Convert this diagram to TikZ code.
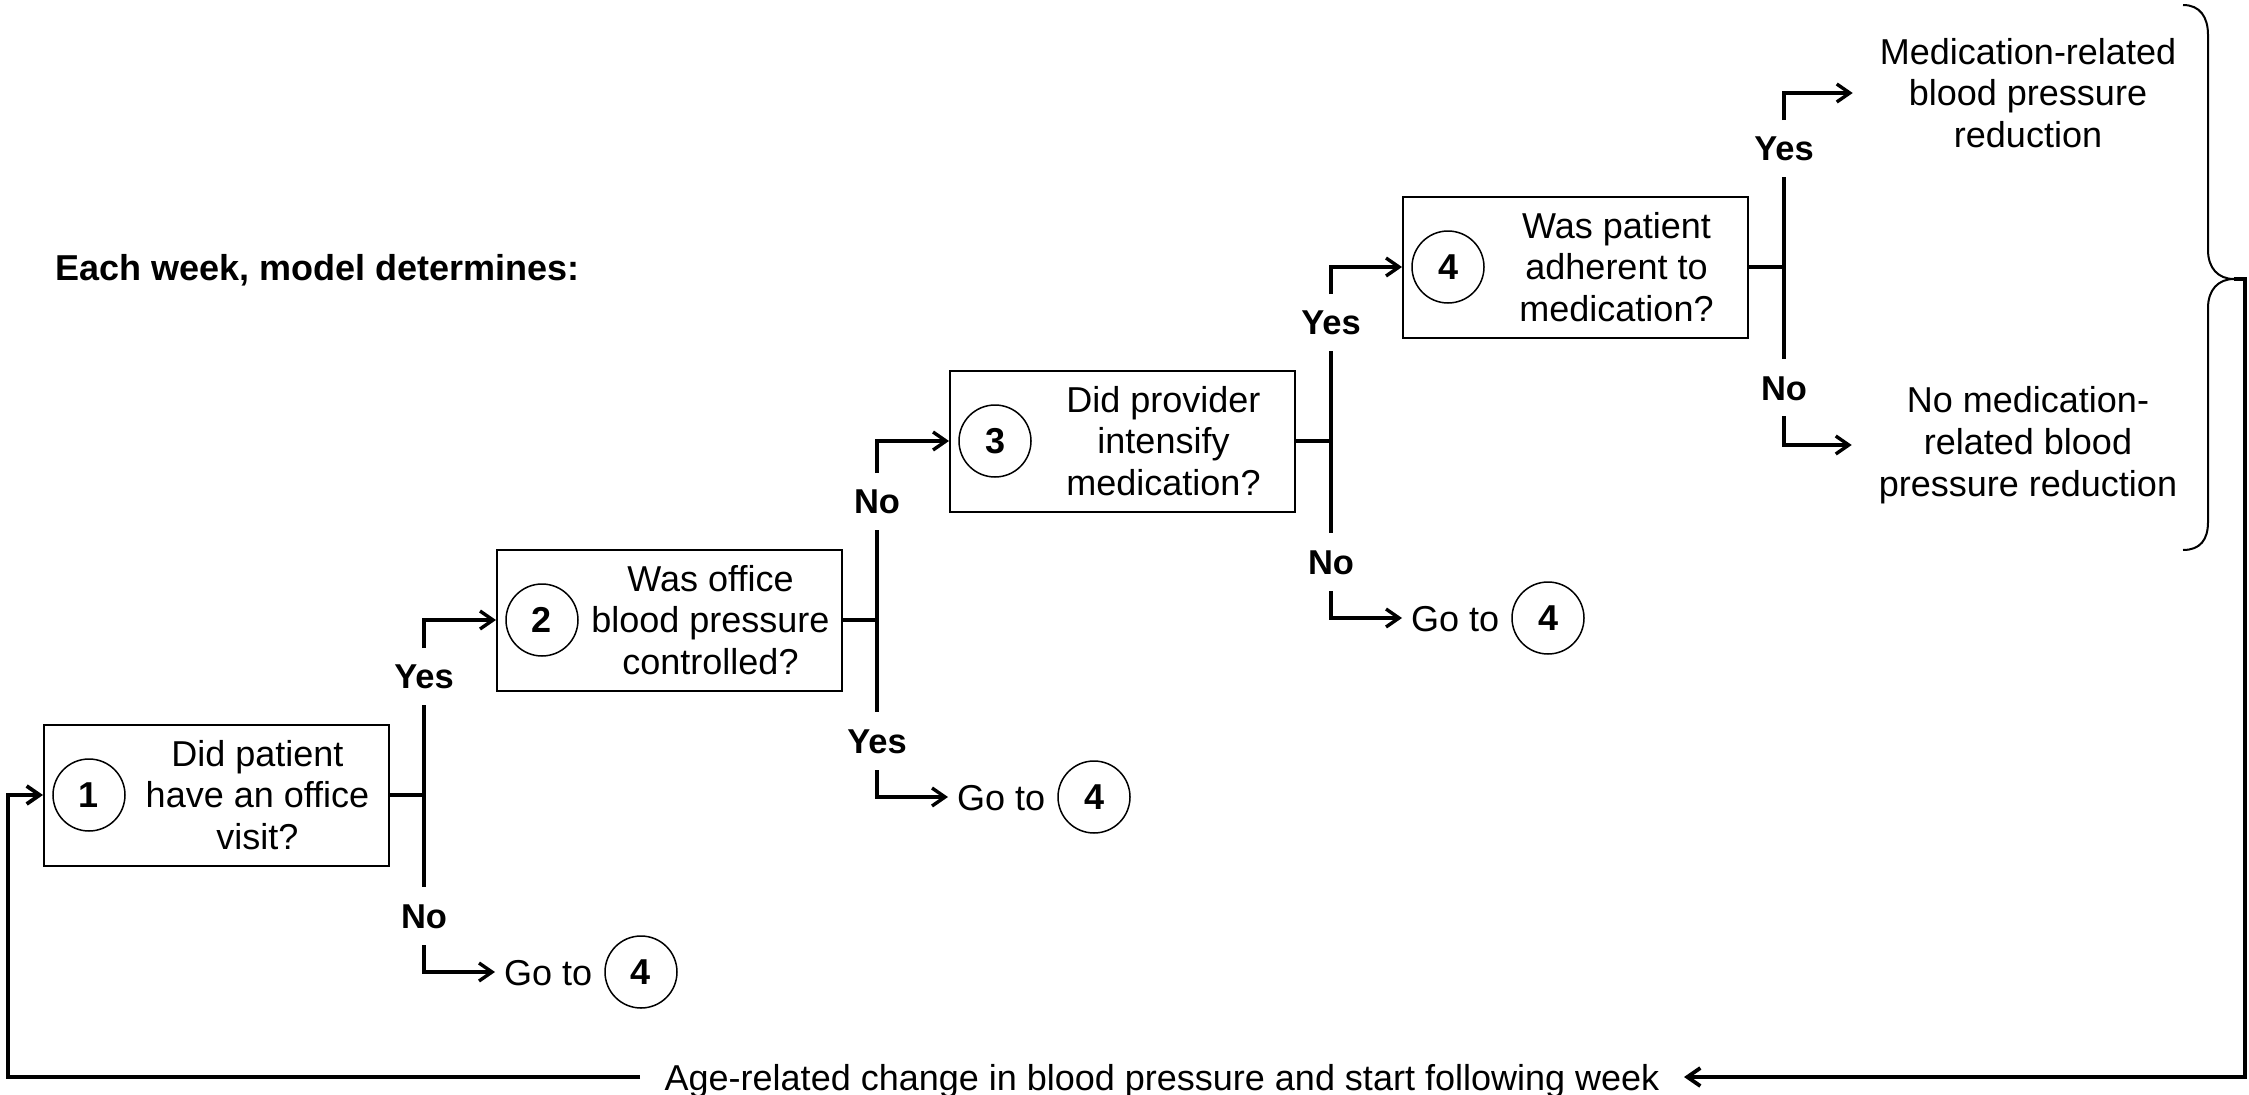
\documentclass[tikz,border=0pt]{standalone}
\usepackage{fontspec}
\setmainfont{Liberation Sans}
\usetikzlibrary{arrows.meta,calc}
\begin{document}
\begin{tikzpicture}[x=1pt,y=-1pt,
 qbox/.style={draw, line width=2pt, minimum width=345pt, minimum height=141pt, inner sep=0pt},
 numc/.style={draw, circle, line width=1.5pt, minimum size=72pt, inner sep=0pt, font=\bfseries\fontsize{36}{40}\selectfont},
 qtext/.style={align=center, inner sep=0pt, font=\fontsize{36}{41.7}\selectfont},
 rtext/.style={align=center, inner xsep=27pt, inner ysep=0pt, font=\fontsize{36}{41.7}\selectfont},
 lbl/.style={inner sep=0pt, font=\bfseries\fontsize{34.5}{40}\selectfont},
 gotxt/.style={anchor=west, inner xsep=9pt, inner ysep=0pt, text height=26pt, text depth=0pt, font=\fontsize{36}{41.7}\selectfont},
 arm/.style={line width=3.4pt},
 arr/.style={line width=3.4pt, -{Straight Barb[length=13pt,width=18pt]}},
 fbarr/.style={line width=3.8pt, -{Straight Barb[length=13pt,width=18pt]}},
]
\fill[white] (0,0) rectangle (2249,1095);
\useasboundingbox (0,0) rectangle (2249,1095);

\node[anchor=base west, inner sep=0pt, font=\bfseries\fontsize{36}{42}\selectfont] (head) at (55,280) {Each week, model determines:};

% question boxes
\node[qbox] (b1) at (216.5,795) {};
\node[numc] (c1) at (89,795) {1};
\node[qtext] (t1) at (257.5,795) {Did patient\\have an office\\visit?};

\node[qbox] (b2) at (669.5,620) {};
\node[numc] (c2) at (542,620) {2};
\node[qtext] (t2) at (710.5,620) {Was office\\blood pressure\\controlled?};

\node[qbox] (b3) at (1122.5,441) {};
\node[numc] (c3) at (995,441) {3};
\node[qtext] (t3) at (1163.5,441) {Did provider\\intensify\\medication?};

\node[qbox] (b4) at (1575.5,267) {};
\node[numc] (c4) at (1448,267) {4};
\node[qtext] (t4) at (1616.5,267) {Was patient\\adherent to\\medication?};

% go-to targets
\node[gotxt] (g1) at (495,972) {Go to};
\node[numc] (gc1) at (641,972) {4};
\node[gotxt] (g2) at (948,797) {Go to};
\node[numc] (gc2) at (1094,797) {4};
\node[gotxt] (g3) at (1402,618) {Go to};
\node[numc] (gc3) at (1548,618) {4};

% outcomes
\node[rtext] (r1) at (2028,93) {Medication-related\\blood pressure\\reduction};
\node[rtext] (r2) at (2028,445) {No medication-\\related blood\\pressure reduction};

% branch 1
\coordinate (j1) at (424,795);
\draw[arm] (b1.east) -- (j1);
\draw[arm] (424,705) -- (424,887);
\node[lbl] (y1) at (424,677) {Yes};
\node[lbl] (n1) at (424,917) {No};
\draw[arr] (424,648) |- (b2.west);
\draw[arr] (424,945) |- (g1);

% branch 2
\coordinate (j2) at (877,620);
\draw[arm] (b2.east) -- (j2);
\draw[arm] (877,530) -- (877,712);
\node[lbl] (n2) at (877,502) {No};
\draw[arr] (877,473) |- (b3.west);
\node[lbl] (y2) at (877,742) {Yes};
\draw[arr] (877,770) |- (g2);

% branch 3
\coordinate (j3) at (1331,441);
\draw[arm] (b3.east) -- (j3);
\draw[arm] (1331,351) -- (1331,533);
\node[lbl] (y3) at (1331,323) {Yes};
\draw[arr] (1331,294) |- (b4.west);
\node[lbl] (n3) at (1331,563) {No};
\draw[arr] (1331,591) |- (g3);

% branch 4
\coordinate (j4) at (1784,267);
\draw[arm] (b4.east) -- (j4);
\draw[arm] (1784,177) -- (1784,359);
\node[lbl] (y4) at (1784,149) {Yes};
\draw[arr] (1784,120) |- (r1);
\node[lbl] (n4) at (1784,389) {No};
\draw[arr] (1784,416) |- (r2);

% brace
\draw[line width=2pt] (2183,5) .. controls (2200,5) and (2208,17) .. (2208,35) -- (2208,250) .. controls (2208,268) and (2218,279) .. (2234,279) .. controls (2218,279) and (2208,290) .. (2208,308) -- (2208,522) .. controls (2208,540) and (2200,550) .. (2183,550);
\coordinate (tip) at (2234,279);

% feedback loop
\node[inner xsep=24.5pt, inner ysep=0pt, text height=26pt, text depth=0pt, font=\fontsize{36}{41.7}\selectfont] (bt) at (1162,1077) {Age-related change in blood pressure and start following week};
\draw[fbarr] (tip) -- (2245,279) |- (bt.east);
\draw[fbarr] (bt.west) -| (8,795) -- (b1.west);
\end{tikzpicture}
\end{document}
